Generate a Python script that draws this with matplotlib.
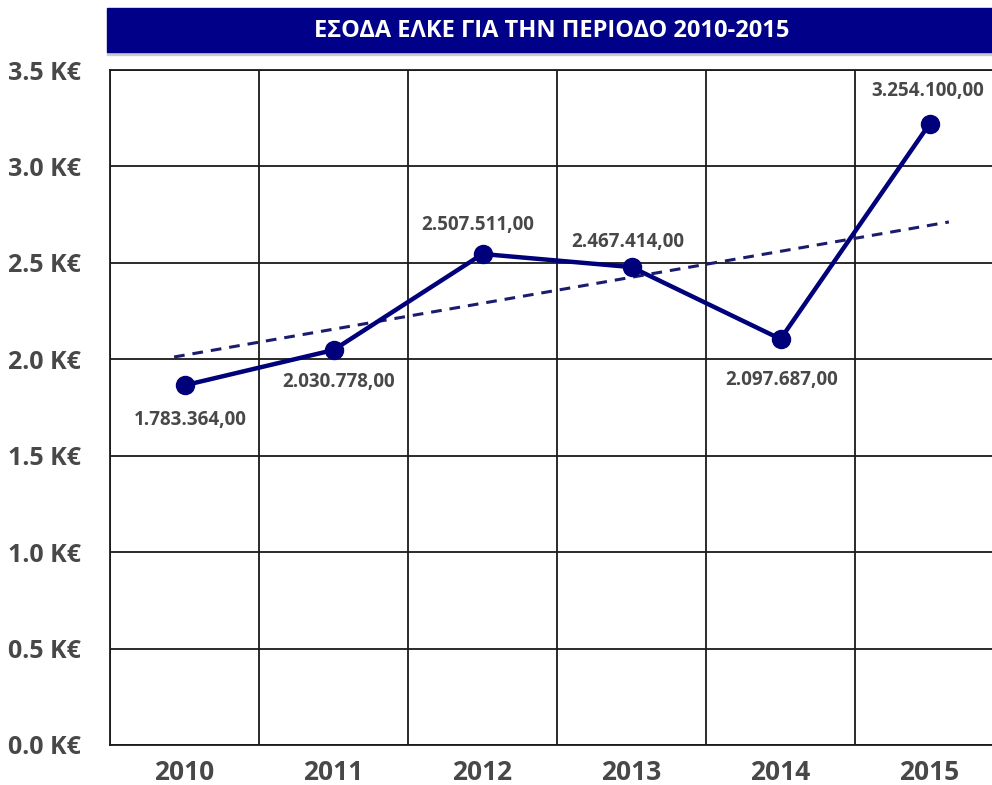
import matplotlib
matplotlib.use("Agg")
import matplotlib.pyplot as plt
from matplotlib.patches import Rectangle
import numpy as np

# data (values in the chart's own "K€" units)
years = ["2010", "2011", "2012", "2013", "2014", "2015"]
income = [1.865, 2.048, 2.546, 2.478, 2.105, 3.220]
point_labels = ["1.783.364,00", "2.030.778,00", "2.507.511,00",
                "2.467.414,00", "2.097.687,00", "3.254.100,00"]
trend_x = [-0.07, 5.13]
trend_y = [2.012, 2.712]
yticks = [0.0, 0.5, 1.0, 1.5, 2.0, 2.5, 3.0, 3.5]

# label offsets from the points, in pixels
lab_dx = [6, 5, -5, -4, 1, -2]
lab_dy = [-35, -32, 29, 25, -41, 33]

plt.rcParams['font.family'] = ['Open Sans', 'DejaVu Sans']

navy = "#00007a"
grey = "#484848"

fig = plt.figure(figsize=(9.92, 7.85), dpi=100)
ax = fig.add_axes([110 / 992, 1 - 745 / 785, 894 / 992, 675 / 785])

x = np.arange(len(years))
ax.plot(trend_x, trend_y, color="#1c1c6e", lw=2.2, ls=(0, (3.5, 2.6)), zorder=3)
ax.plot(x, income, color=navy, lw=3.2, marker="o", ms=13, zorder=4)

for xi, v, lab, dx, dy in zip(x, income, point_labels, lab_dx, lab_dy):
    ax.annotate(lab, (xi, v), xytext=(dx * 0.72, dy * 0.72), textcoords="offset points",
                ha="center", va="center", fontsize=13.5, fontweight="bold", color=grey)

ax.set_xlim(-0.5, 5.5)
ax.set_ylim(0, 3.5)
ax.set_yticks(yticks)
ax.set_yticklabels([f"{t:.1f} K€" for t in yticks])
ax.set_xticks(x)
ax.set_xticklabels(years)
ax.set_xticks(np.arange(-0.5, 6, 1), minor=True)
ax.grid(False)
ax.yaxis.grid(True, color="#1a1a1a", lw=1.3)
ax.xaxis.grid(True, which="minor", color="#1a1a1a", lw=1.3)
ax.tick_params(axis="both", which="both", length=0)
ax.tick_params(axis="y", pad=21, labelsize=18, labelcolor=grey)
ax.tick_params(axis="x", pad=10, labelsize=19, labelcolor=grey)
for lab in ax.get_xticklabels() + ax.get_yticklabels():
    lab.set_fontweight("bold")
for s in ax.spines.values():
    s.set_color("#1a1a1a")
    s.set_linewidth(1.3)

# title bar
fig.patches.append(Rectangle((107 / 992, 1 - 55 / 785), 890 / 992, 3 / 785,
                             transform=fig.transFigure, color="#cccccc", zorder=0))
fig.patches.append(Rectangle((107 / 992, 1 - 52 / 785), 890 / 992, 44 / 785,
                             transform=fig.transFigure, color="#000088", zorder=1))
fig.text(552 / 992, 1 - 31 / 785, "ΕΣΟΔΑ ΕΛΚΕ ΓΙΑ ΤΗΝ ΠΕΡΙΟΔΟ 2010-2015", color="white",
         fontsize=17, fontweight="bold", ha="center", va="center")

fig.savefig("out.png", dpi=100)
